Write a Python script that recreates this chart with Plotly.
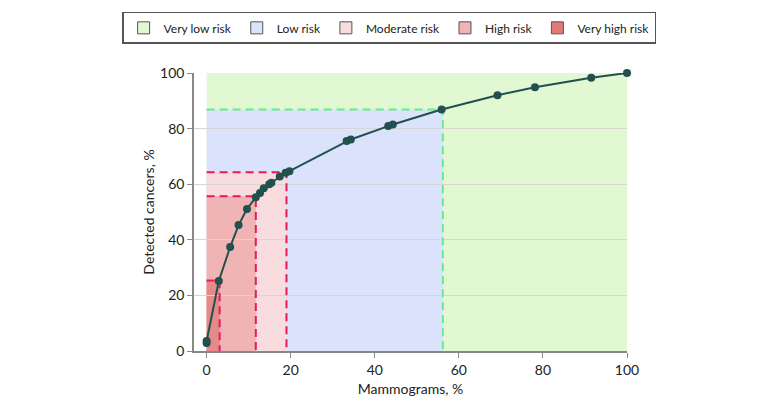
import plotly.graph_objects as go

# Data
mammograms_pct = [0.0, 0.0, 2.9, 5.6, 7.6, 9.6, 11.7, 12.7, 13.6, 14.9, 15.4, 17.4, 18.8, 19.7,
                  33.3, 34.3, 43.2, 44.3, 55.9, 69.2, 78.1, 91.5, 100.0]
detected_pct = [2.9, 3.6, 25.2, 37.4, 45.3, 51.1, 55.3, 56.8, 58.5, 60.0, 60.5, 62.8, 64.1, 64.7,
                75.5, 76.1, 80.9, 81.5, 86.9, 92.0, 94.9, 98.3, 100.0]

risk_names = ["Very low risk", "Low risk", "Moderate risk", "High risk", "Very high risk"]
risk_x_limits = [100.0, 56.2, 19.0, 11.7, 3.1]
risk_y_limits = [100.0, 86.9, 64.3, 55.7, 25.4]
risk_colors = ["#e1f8d3", "#dae3fb", "#f9dcdd", "#efb4b3", "#e58a88"]
legend_colors = ["#e1f8d3", "#dae3fb", "#f9dcdd", "#efb4b3", "#e07a79"]
dash_colors = [None, "#5ff08a", "#e8185c", "#e8185c", "#e8185c"]

x_ticks = [0, 20, 40, 60, 80, 100]
y_ticks = [0, 20, 40, 60, 80, 100]

fig = go.Figure()

shapes = []
for name, xl, yl, col in zip(risk_names, risk_x_limits, risk_y_limits, risk_colors):
    shapes.append(dict(type="rect", xref="x", yref="y", x0=0, x1=xl, y0=0, y1=yl,
                       fillcolor=col, line=dict(width=0), layer="below"))

# legend entries
for name, col in zip(risk_names, legend_colors):
    fig.add_trace(go.Bar(x=[None], y=[None], name=name,
                         marker=dict(color=col, line=dict(color="#555555", width=1)),
                         showlegend=True, hoverinfo="skip"))

# dashed threshold lines
for xl, yl, dc in zip(risk_x_limits, risk_y_limits, dash_colors):
    if dc is None:
        continue
    fig.add_trace(go.Scatter(x=[0, xl, xl], y=[yl, yl, 0], mode="lines",
                             line=dict(color=dc, width=2, dash="8px,5px"),
                             showlegend=False, hoverinfo="skip", cliponaxis=False))

fig.add_trace(go.Scatter(x=mammograms_pct, y=detected_pct, mode="lines+markers",
                         line=dict(color="#21504e", width=2),
                         marker=dict(color="#21504e", size=8),
                         showlegend=False, cliponaxis=False))

font_family = "Lato, 'Noto Sans', sans-serif"
fig.update_layout(
    width=780, height=405,
    margin=dict(l=186, r=161, t=65, b=62, autoexpand=False),
    paper_bgcolor="white", plot_bgcolor="white",
    shapes=shapes,
    font=dict(family=font_family, size=13, color="#222222"),
    showlegend=True,
    legend=dict(orientation="h", xref="paper", yref="paper",
                x=-0.166, xanchor="left", y=1.22, yanchor="top",
                bordercolor="#555555", borderwidth=1.5, bgcolor="white",
                font=dict(size=12, color="#222222"), traceorder="normal"),
    xaxis=dict(range=[-3, 100], tickvals=x_ticks, showgrid=False, zeroline=False,
               showline=True, linecolor="#888888", linewidth=1.5, automargin=False,
               ticks="outside", ticklen=5, tickcolor="#888888", tickfont=dict(size=14),
               title=dict(text="Mammograms, %", standoff=8, font=dict(size=14))),
    yaxis=dict(range=[0, 100], tickvals=y_ticks, showgrid=True, gridcolor="#d6d6d6", gridwidth=1,
               zeroline=False, showline=True, linecolor="#888888", linewidth=1.5, automargin=False,
               ticks="outside", ticklen=5, tickcolor="#888888", tickfont=dict(size=14),
               title=dict(text="Detected cancers, %", standoff=2, font=dict(size=14))),
)

fig.write_html("out.html")
